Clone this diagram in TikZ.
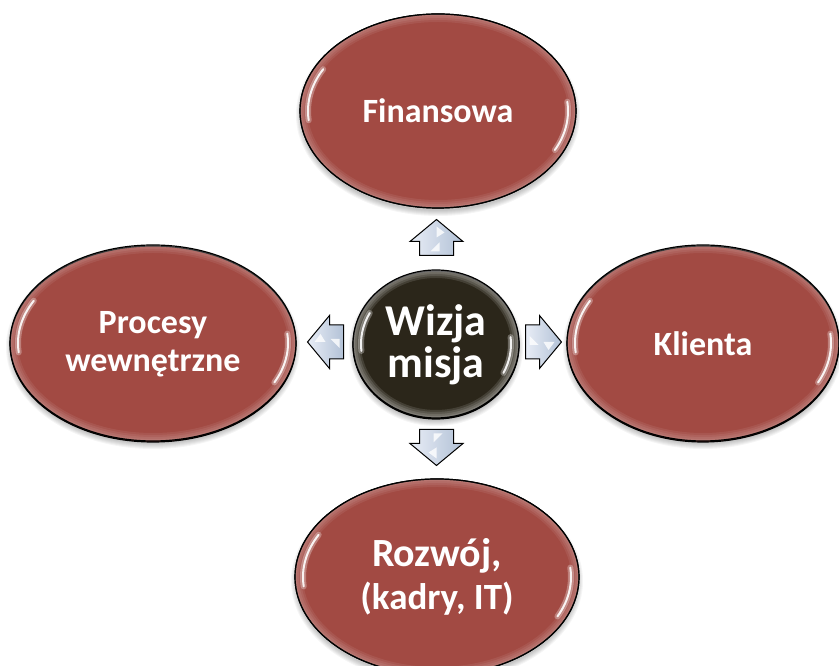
\documentclass[tikz,border=0pt]{standalone}
\usepackage{fontspec}
\setmainfont{Carlito}
\usetikzlibrary{shapes.geometric}
\definecolor{brick}{HTML}{A24A43}
\definecolor{core}{HTML}{2B261A}
\definecolor{arrowlight}{HTML}{E8EDF6}
\definecolor{arrowdark}{HTML}{B2C1D6}
\tikzset{
  oval/.style={ellipse, draw=black, line width=1.2pt, fill=brick, text=white, align=center,
    inner sep=0pt, outer sep=0pt, font=\bfseries\fontsize{34}{38}\selectfont},
  coreoval/.style={oval, fill=core, font=\bfseries\fontsize{44}{42}\selectfont},
  bigoval/.style={oval, font=\bfseries\fontsize{37}{43}\selectfont},
  blockarrow/.pic={
    \path[draw=black, line width=1pt, line join=miter, left color=arrowlight, right color=arrowdark]
      (-17,-18) -- (-17,-4) -- (-26.5,-4) -- (0,18) -- (26.5,-4) -- (17,-4) -- (17,-18) -- cycle;
    \fill[white, opacity=0.8] (0,11) -- (8,5) -- (0,0) -- cycle;
    \fill[white, opacity=0.8] (-6,-14) -- (3,-14) -- (3,-5) -- cycle;
  }
}
\newcommand{\ovalshadow}[4]{%
  \foreach \k in {0,...,5}{\fill[black,opacity=0.04] (#1,#2-4) ellipse[x radius={(#3+\k-1)*1pt}, y radius={(#4+\k-1)*1pt}];}}
\newcommand{\ovalgloss}[5]{%
  \begin{scope}
    \clip (#1,#2) ellipse[x radius=#3pt, y radius=#4pt];
    \foreach \w in {4,8,12,16}{\draw[white,opacity=#5,line width=\w pt] (#1,#2) ellipse[x radius=#3pt, y radius=#4pt];}
  \end{scope}
  \draw[black,line width=1.2pt] (#1,#2) ellipse[x radius=#3pt, y radius=#4pt];
  \foreach \a/\b in {152/186, -26/6}{
    \draw[white,opacity=0.3,line width=6pt,line cap=round] (#1,#2) ++(\a:{#3-8} and {#4-8})
      arc[start angle=\a, end angle=\b, x radius={(#3-8)*1pt}, y radius={(#4-8)*1pt}];
    \draw[white,opacity=0.9,line width=2pt,line cap=round] (#1,#2) ++(\a:{#3-8} and {#4-8})
      arc[start angle=\a, end angle=\b, x radius={(#3-8)*1pt}, y radius={(#4-8)*1pt}];
  }}
\begin{document}
\begin{tikzpicture}[x=1pt,y=1pt]
\useasboundingbox (0,0) rectangle (839,666);
\fill[white] (0,0) rectangle (839,666);
% shadows
\ovalshadow{438}{555}{138}{97}
\ovalshadow{153}{323}{143}{98}
\ovalshadow{703}{323}{136}{98}
\ovalshadow{437}{89}{142}{98}
\ovalshadow{436}{322}{83}{74}
% nodes
\node[oval, minimum width=276pt, minimum height=194pt] (fin) at (438,555) {Finansowa};
\node[oval, minimum width=286pt, minimum height=196pt] (proc) at (153,322) {Procesy\\wewnętrzne};
\node[oval, minimum width=272pt, minimum height=196pt] (kli) at (703,322) {Klienta};
\node[bigoval, minimum width=284pt, minimum height=196pt] (roz) at (437,89) {{\fontsize{40}{43}\selectfont Rozwój,}\\(kadry, IT)};
\node[coreoval, minimum width=166pt, minimum height=148pt] (core) at (436,321) {Wizja\\misja};
% gloss
\ovalgloss{438}{555}{138}{97}{0.07}
\ovalgloss{153}{323}{143}{98}{0.07}
\ovalgloss{703}{323}{136}{98}{0.07}
\ovalgloss{437}{89}{142}{98}{0.07}
\ovalgloss{436}{322}{83}{74}{0.12}
% arrows
\pic at (436.5,428.5) {blockarrow};
\pic[rotate=180] at (436.5,218.5) {blockarrow};
\pic[rotate=90] at (325.5,324) {blockarrow};
\pic[rotate=-90] at (543.5,324) {blockarrow};
\end{tikzpicture}
\end{document}
